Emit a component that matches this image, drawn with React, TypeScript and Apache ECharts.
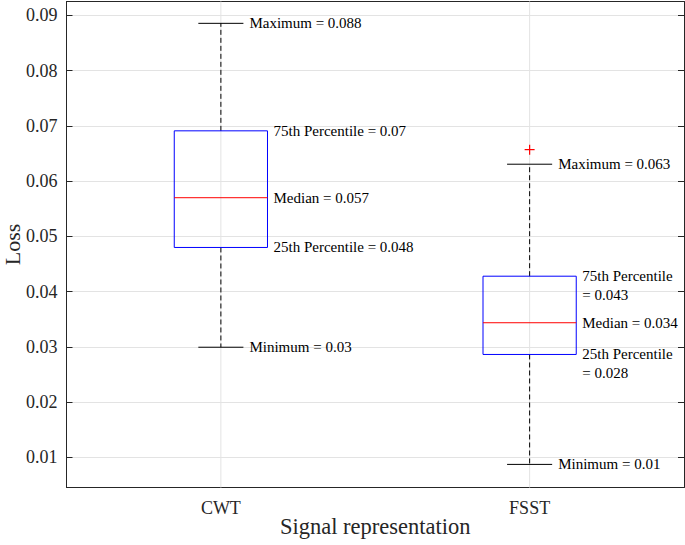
import { useEffect, useRef } from 'react'
import * as echarts from 'echarts'

// box statistics: [min, q1, median, q3, max]
const categories = ['CWT', 'FSST']
const minimums = [0.02995, 0.00875]
const q1s = [0.048, 0.02864]
const medians = [0.057, 0.03438]
const q3s = [0.0691, 0.0428]
const maximums = [0.08855, 0.06306]
const outliers: [number, number][] = [[1, 0.0657]]

const maxLabels = ['Maximum = 0.088', 'Maximum = 0.063']
const q3Labels = ['75th Percentile = 0.07', '75th Percentile\n= 0.043']
const medianLabels = ['Median = 0.057', 'Median = 0.034']
const q1Labels = ['25th Percentile = 0.048', '25th Percentile\n= 0.028']
const minLabels = ['Minimum = 0.03', 'Minimum = 0.01']

const yMin = 0.00457
const yMax = 0.0925

const FONT = 'Liberation Serif'
const AXIS = '#262626'
const GRID = '#e3e3e3'

export default function App() {
  const chartRef = useRef<HTMLDivElement>(null)

  useEffect(() => {
    if (!chartRef.current) return
    const chart = echarts.init(chartRef.current, undefined, { renderer: 'svg' })

    const boxData = categories.map((_, i) => [i, minimums[i], q1s[i], medians[i], q3s[i], maximums[i]])

    const label = (x: number, y: number, text: string, twoLine: boolean) => ({
      type: 'text',
      x,
      y: twoLine ? y - 9.5 : y,
      style: {
        text,
        fill: '#000',
        fontFamily: FONT,
        fontSize: 15,
        lineHeight: 19,
        verticalAlign: twoLine ? 'top' : 'middle',
        align: 'left'
      }
    })

    const renderBox = (params: any, api: any) => {
      const i = api.value(0)
      const band = api.size([1, 0])[0]
      const cs = params.coordSys
      const pMin = api.coord([i, api.value(1)])
      const pQ1 = api.coord([i, api.value(2)])
      const pMed = api.coord([i, api.value(3)])
      const pQ3 = api.coord([i, api.value(4)])
      const pMax = api.coord([i, api.value(5)])
      const cx = pMed[0]
      const hb = band * 0.151
      const hc = band * 0.073
      const dash = { stroke: '#000', lineWidth: 1, lineDash: [5, 3] }
      const solid = { stroke: '#000', lineWidth: 1 }
      const children: any[] = [
        // vertical grid line at the category
        { type: 'line', shape: { x1: cx, y1: cs.y, x2: cx, y2: cs.y + cs.height }, style: { stroke: GRID, lineWidth: 1 } },
        { type: 'line', shape: { x1: cx, y1: pQ3[1], x2: cx, y2: pMax[1] }, style: dash },
        { type: 'line', shape: { x1: cx, y1: pQ1[1], x2: cx, y2: pMin[1] }, style: dash },
        { type: 'line', shape: { x1: cx - hc, y1: pMax[1], x2: cx + hc, y2: pMax[1] }, style: solid },
        { type: 'line', shape: { x1: cx - hc, y1: pMin[1], x2: cx + hc, y2: pMin[1] }, style: solid },
        {
          type: 'rect',
          shape: { x: cx - hb, y: pQ3[1], width: hb * 2, height: pQ1[1] - pQ3[1] },
          style: { fill: 'none', stroke: '#0000ff', lineWidth: 1 }
        },
        { type: 'line', shape: { x1: cx - hb, y1: pMed[1], x2: cx + hb, y2: pMed[1] }, style: { stroke: '#ff0000', lineWidth: 1 } },
        label(cx + hc + 6, pMax[1], maxLabels[i], false),
        label(cx + hc + 6, pMin[1], minLabels[i], false),
        label(cx + hb + 6, pQ3[1], q3Labels[i], q3Labels[i].includes('\n')),
        label(cx + hb + 6, pMed[1], medianLabels[i], false),
        label(cx + hb + 6, pQ1[1], q1Labels[i], q1Labels[i].includes('\n'))
      ]
      return { type: 'group', children }
    }

    const renderOutlier = (_params: any, api: any) => {
      const p = api.coord([api.value(0), api.value(1)])
      const s = 5
      const st = { stroke: '#ff0000', lineWidth: 1.2 }
      return {
        type: 'group',
        children: [
          { type: 'line', shape: { x1: p[0] - s, y1: p[1], x2: p[0] + s, y2: p[1] }, style: st },
          { type: 'line', shape: { x1: p[0], y1: p[1] - s, x2: p[0], y2: p[1] + s }, style: st }
        ]
      }
    }

    const yCommon = {
      type: 'value',
      min: yMin,
      max: yMax,
      splitNumber: 9,
      minInterval: 0.01,
      maxInterval: 0.01,
      axisLine: { show: true, lineStyle: { color: AXIS, width: 1 } },
      axisTick: { show: true, inside: true, length: 6, lineStyle: { color: AXIS } }
    }

    const option = {
      animation: false,
      grid: { left: 66.5, right: 1, top: 1.5, bottom: 57.5, containLabel: false, outerBoundsMode: 'none' },
      xAxis: [
        {
          type: 'category',
          data: categories,
          boundaryGap: true,
          name: 'Signal representation',
          nameLocation: 'middle',
          nameGap: 27,
          nameMoveOverlap: false,
          nameTextStyle: { fontFamily: FONT, fontSize: 22.5, color: AXIS },
          axisLine: { lineStyle: { color: AXIS, width: 1 } },
          axisTick: { inside: true, alignWithLabel: true, length: 6, lineStyle: { color: AXIS } },
          axisLabel: { fontFamily: FONT, fontSize: 18, color: AXIS, margin: 11 },
          splitLine: { show: false }
        },
        {
          type: 'category',
          data: categories,
          position: 'top',
          boundaryGap: true,
          axisLine: { show: true, lineStyle: { color: AXIS, width: 1 } },
          axisTick: { inside: true, alignWithLabel: true, length: 6, lineStyle: { color: AXIS } },
          axisLabel: { show: false },
          splitLine: { show: false }
        }
      ],
      yAxis: [
        {
          ...yCommon,
          name: 'Loss',
          nameLocation: 'middle',
          nameGap: 43,
          nameMoveOverlap: false,
          nameTextStyle: { fontFamily: FONT, fontSize: 22, color: AXIS, lineHeight: 22 },
          axisLabel: {
            fontFamily: FONT,
            fontSize: 18,
            color: AXIS,
            margin: 9,
            showMinLabel: false,
            showMaxLabel: false,
            formatter: (v: number) => Number(v.toFixed(4)).toString()
          },
          splitLine: { show: true, lineStyle: { color: GRID, width: 1 } }
        },
        {
          ...yCommon,
          position: 'right',
          axisLabel: { show: false },
          splitLine: { show: false }
        }
      ],
      series: [
        {
          type: 'custom',
          renderItem: renderBox,
          data: boxData,
          encode: { x: 0, y: [1, 2, 3, 4, 5] },
          z: 3
        },
        {
          type: 'custom',
          renderItem: renderOutlier,
          data: outliers,
          encode: { x: 0, y: 1 },
          z: 4
        }
      ]
    }

    chart.setOption(option as any)

    const handleResize = () => chart.resize()
    window.addEventListener('resize', handleResize)
    return () => {
      window.removeEventListener('resize', handleResize)
      chart.dispose()
    }
  }, [])

  return (
    <div
      ref={chartRef}
      style={{ position: 'fixed', left: 0, top: 0, width: 685, height: 545, background: '#fff' }}
    />
  )
}
